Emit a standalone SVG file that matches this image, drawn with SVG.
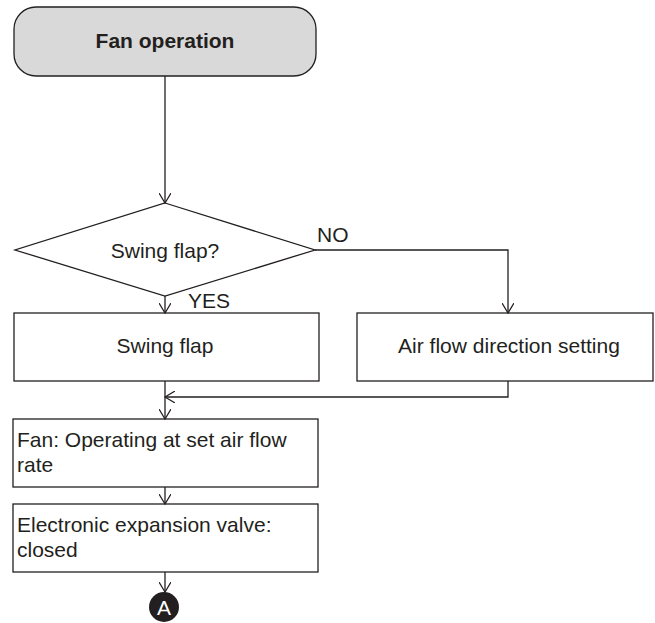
<svg xmlns="http://www.w3.org/2000/svg" width="655" height="623" viewBox="0 0 655 623">
<defs>
<marker id="arr" markerWidth="12" markerHeight="12" refX="10" refY="6" orient="auto" markerUnits="userSpaceOnUse">
<path d="M0,0 L10,6 L0,12" fill="none" stroke="#231f20" stroke-width="1.2"/>
</marker>
<style>
.box{fill:#fff;stroke:#231f20;stroke-width:1.3}
.t{font-family:"Liberation Sans",Arial,sans-serif;font-size:21px;fill:#231f20}
.c{text-anchor:middle}
.ln{fill:none;stroke:#231f20;stroke-width:1.3}
</style>
</defs>
<rect width="655" height="623" fill="#fff"/>
<g id="start">
<rect x="14" y="7" width="302" height="69" rx="22" ry="22" fill="#d9d9d9" stroke="#231f20" stroke-width="1.3"/>
<text class="t c" x="165" y="48" font-weight="bold">Fan operation</text>
</g>
<g id="decision">
<polygon class="box" points="165,203 315,250 165,296 15,250"/>
<text class="t c" x="165" y="258">Swing flap?</text>
</g>
<g id="swing">
<rect class="box" x="14" y="313" width="305" height="68"/>
<text class="t c" x="165" y="353">Swing flap</text>
</g>
<g id="airflow">
<rect class="box" x="357" y="313" width="296" height="68"/>
<text class="t c" x="509" y="353">Air flow direction setting</text>
</g>
<g id="fan">
<rect class="box" x="13" y="419" width="305" height="68"/>
<text class="t" x="17" y="447">Fan: Operating at set air flow</text>
<text class="t" x="17" y="472">rate</text>
</g>
<g id="valve">
<rect class="box" x="13" y="504" width="305" height="68"/>
<text class="t" x="17" y="532">Electronic expansion valve:</text>
<text class="t" x="17" y="557">closed</text>
</g>
<g id="A">
<circle cx="164" cy="607" r="15" fill="#231f20"/>
<text class="t c" x="164" y="615" style="fill:#fff">A</text>
</g>
<g id="connectors">
<line class="ln" x1="165" y1="76" x2="165" y2="203" marker-end="url(#arr)"/>
<polyline class="ln" points="315,250 508,250 508,313" marker-end="url(#arr)"/>
<line class="ln" x1="165" y1="296" x2="165" y2="313" marker-end="url(#arr)"/>
<polyline class="ln" points="508,381 508,397 165,397" marker-end="url(#arr)"/>
<line class="ln" x1="165" y1="381" x2="165" y2="419" marker-end="url(#arr)"/>
<line class="ln" x1="165" y1="487" x2="165" y2="504" marker-end="url(#arr)"/>
<line class="ln" x1="165" y1="572" x2="165" y2="592" marker-end="url(#arr)"/>
<text class="t" x="317" y="242">NO</text>
<text class="t" x="188" y="308">YES</text>
</g>
</svg>
